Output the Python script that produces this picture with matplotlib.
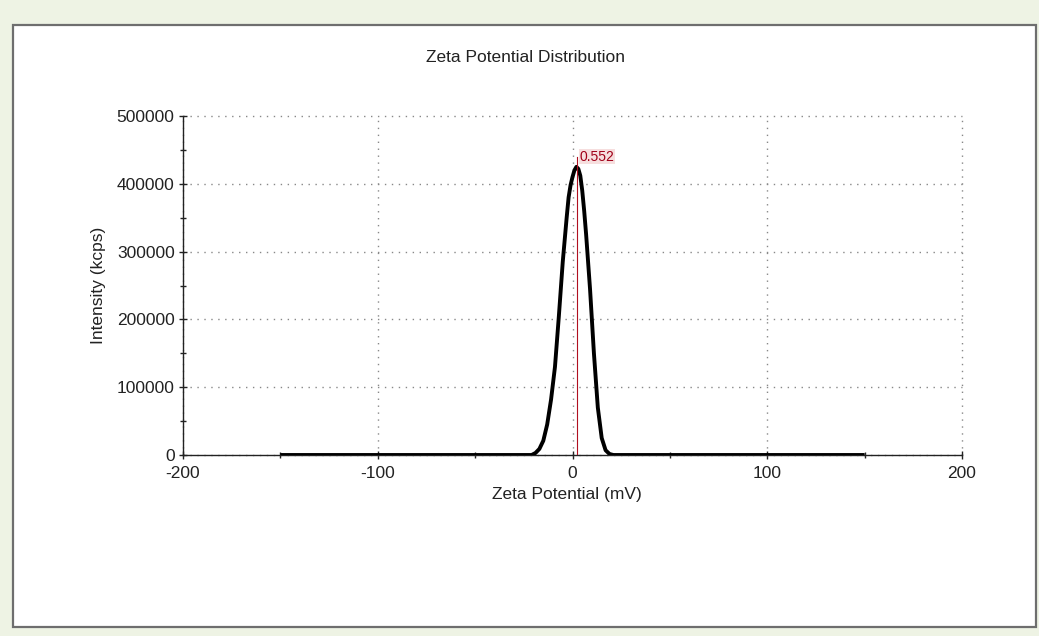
import matplotlib
matplotlib.use("Agg")
import matplotlib.pyplot as plt
from matplotlib.patches import Rectangle
from matplotlib.ticker import MultipleLocator

# zeta potential (mV) vs intensity (kcps)
zeta = [-150, -21, -19, -17, -15, -13, -11, -9, -7, -5, -3, -2, -1, 0, 1, 2, 3, 4, 5, 6,
        7, 9, 11, 13, 15, 17, 19, 21, 150]
intensity = [0, 0, 3000, 9000, 21000, 45000, 82000, 130000, 205000, 285000, 350000, 380000,
             398000, 410000, 420000, 425000, 422000, 412000, 390000, 360000,
             325000, 245000, 150000, 70000, 25000, 7000, 1500, 0, 0]
peak_x = 2.2
peak_label = "0.552"
xticks = [-200, -100, 0, 100, 200]
yticks = [0, 100000, 200000, 300000, 400000, 500000]

plt.rcParams['font.family'] = ['Liberation Sans', 'DejaVu Sans']
plt.rcParams['axes.unicode_minus'] = False

fig = plt.figure(figsize=(10.39, 6.36), dpi=100)
fig.patch.set_facecolor('#eef3e4')
W, H = 1039, 636
panel = Rectangle((13 / W, 1 - 627 / H), (1036 - 13) / W, (627 - 25) / H,
                  transform=fig.transFigure, facecolor='white', edgecolor='#6e6e6e',
                  linewidth=1.6, zorder=-5)
fig.patches.append(panel)

ax = fig.add_axes([183 / W, 1 - 455 / H, (962 - 183) / W, (455 - 116) / H])
ax.set_facecolor('none')

ax.plot(zeta, intensity, color='black', linewidth=2.8, solid_capstyle='butt',
        solid_joinstyle='round', zorder=3)
ax.plot([peak_x, peak_x], [0, 440000], color='#b01020', linewidth=0.8, zorder=4)
ax.text(peak_x + 1.5, 440000, peak_label, color='#a00018', fontsize=10,
        va='center', ha='left',
        bbox=dict(facecolor='#f6dede', edgecolor='none', pad=0.5))

ax.set_xlim(-200, 200)
ax.set_ylim(0, 500000)
ax.set_xticks(xticks)
ax.set_yticks(yticks)
ax.xaxis.set_minor_locator(MultipleLocator(50))
ax.yaxis.set_minor_locator(MultipleLocator(50000))
ax.tick_params(which='major', direction='inout', length=6, width=1, labelsize=12.5,
               colors='#222222')
ax.tick_params(which='minor', direction='inout', length=5, width=1, color='#222222')
ax.tick_params(axis='y', pad=3)
ax.tick_params(axis='x', pad=5)

for s in ['top', 'right']:
    ax.spines[s].set_visible(False)
for s in ['left', 'bottom']:
    ax.spines[s].set_color('#222222')
    ax.spines[s].set_linewidth(1.0)

ax.grid(True, which='major', linestyle=(0, (1, 4)), color='#888888', linewidth=1.0)
for ln in ax.get_xgridlines() + ax.get_ygridlines():
    ln.set_clip_on(False)

ax.set_ylabel("Intensity (kcps)", fontsize=12.5, color='#222222', labelpad=8)
fig.text(567 / W, 1 - 494 / H, "Zeta Potential (mV)", ha='center', va='center',
         fontsize=12.5, color='#222222')
fig.text(526 / W, 1 - 57 / H, "Zeta Potential Distribution", ha='center', va='center',
         fontsize=12.5, color='#222222')

fig.savefig("out.png", dpi=100, facecolor=fig.get_facecolor())
